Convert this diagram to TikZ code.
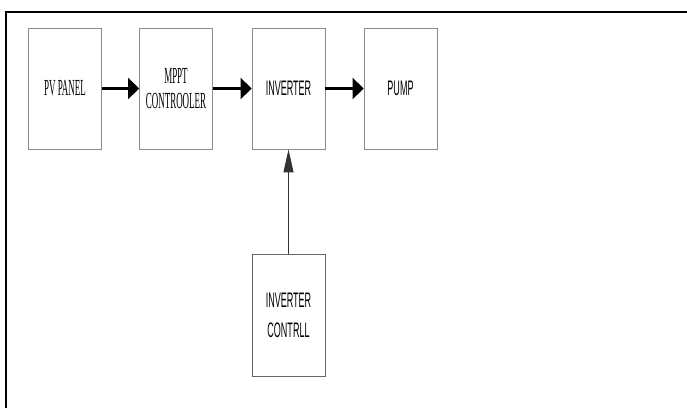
\documentclass[tikz,border=0pt]{standalone}
\usepackage{fontspec}
\usetikzlibrary{arrows.meta}
\newfontfamily\narrowsans[FakeStretch=0.43]{Liberation Sans}
\newfontfamily\narrowserif[FakeStretch=0.39]{Liberation Serif}
\begin{document}
\begin{tikzpicture}[x=1pt,y=-1pt,
  blockbox/.style={draw=black!45, line width=0.8pt, minimum width=73pt, minimum height=121pt, inner sep=0pt, align=center},
  sanstext/.style={font=\narrowsans\fontsize{21}{30}\selectfont},
  seriftext/.style={font=\narrowserif\fontsize{23}{25}\selectfont},
  thickarrow/.style={line width=3pt, -{Triangle[length=11pt,width=21pt]}},
  thinarrow/.style={line width=1pt, draw=black!80, -{Triangle[length=23pt,width=10pt]}}]
\useasboundingbox (0,0) rectangle (687,408);
\fill[white] (0,0) rectangle (687,408);
\coordinate (fbl) at (6,408);
\coordinate (ftl) at (6,12);
\coordinate (ftr) at (687,12);
\draw[line width=2pt] (fbl) -- (ftl) -- (ftr);
\node[blockbox, seriftext] (pv) at (65,88.5) {PV PANEL};
\node[blockbox, seriftext] (mppt) at (176,88.5) {MPPT\\CONTROOLER};
\node[blockbox, sanstext] (inv) at (288.5,88.5) {INVERTER};
\node[blockbox, sanstext] (pump) at (400.5,88.5) {PUMP};
\node[blockbox, sanstext, minimum height=122pt, draw=black!60] (ctrl) at (288.5,315) {INVERTER\\CONTRLL};
\draw[thickarrow] (pv.east) -- (mppt.west);
\draw[thickarrow] (mppt.east) -- (inv.west);
\draw[thickarrow] (inv.east) -- (pump.west);
\draw[thinarrow] (ctrl.north) -- (inv.south);
\end{tikzpicture}
\end{document}
